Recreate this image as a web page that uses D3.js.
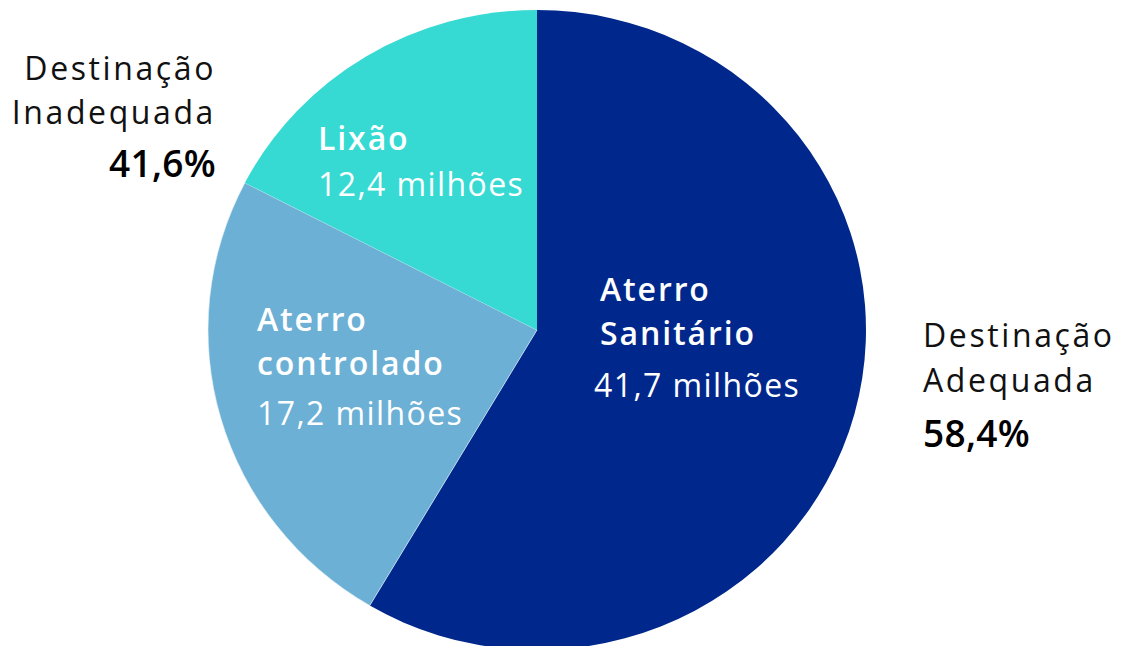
<!DOCTYPE html>
<html>
<head>
<meta charset="utf-8">
<script src="https://d3js.org/d3.v7.min.js"></script>
<style>
  body { margin: 0; background: #fff; }
  svg { display: block; font-family: "Open Sans", "Noto Sans", sans-serif; }
</style>
</head>
<body>
<div id="chart"></div>
<script>
// destinação dos resíduos (milhões de toneladas)
const categories = ["Aterro Sanitário", "Aterro controlado", "Lixão"];
const values = [41.7, 17.2, 12.4];
const valueLabels = ["41,7 milhões", "17,2 milhões", "12,4 milhões"];
const colors = ["#00288c", "#6db0d5", "#37dad3"];
const groupLabels = ["Destinação Adequada", "Destinação Inadequada"];
const groupShares = ["58,4%", "41,6%"];

const w = 1122, h = 646;
const cx = 537, cy = 330, r = 320;

const svg = d3.select('#chart').append('svg')
  .attr('width', w)
  .attr('height', h);

const pie = d3.pie().sort(null).value(d => d);
const arc = d3.arc().innerRadius(0).outerRadius(r);

const g = svg.append('g')
  .attr('transform', 'translate(' + cx + ',' + cy + ') scale(' + (329 / 320) + ',1)');

g.selectAll('path')
  .data(pie(values))
  .enter()
  .append('path')
  .attr('d', arc)
  .attr('fill', (d, i) => colors[i])
  .attr('stroke', (d, i) => i == 1 ? '#e8f4f8' : 'none')
  .attr('stroke-width', 0.6);

// texto dentro das fatias
const inner = [
  { x: 600, lines: ["Aterro", "Sanitário"], y0: 301, vx: 594, vy: 397 },
  { x: 257, lines: ["Aterro", "controlado"], y0: 331, vx: 257, vy: 425 },
  { x: 318, lines: ["Lixão"], y0: 150, vx: 318, vy: 196 }
];

inner.forEach((t, i) => {
  t.lines.forEach((l, j) => {
    svg.append('text')
      .attr('x', t.x)
      .attr('y', t.y0 + j * 44)
      .attr('fill', '#fff')
      .attr('font-size', 32)
      .attr('font-weight', 600)
      .attr('letter-spacing', 1.9)
      .text(l);
  });
  svg.append('text')
    .attr('x', t.vx)
    .attr('y', t.vy)
    .attr('fill', '#fff')
    .attr('font-size', 32)
    .attr('letter-spacing', 1.4)
    .text(valueLabels[i]);
});

// rótulos laterais
const side = [
  { x: 923, anchor: 'start', y: [347, 392, 447] },
  { x: 216, anchor: 'end', y: [80, 124, 177] }
];

side.forEach((s, i) => {
  const words = groupLabels[i].split(' ');
  words.forEach((wd, j) => {
    svg.append('text')
      .attr('x', s.x)
      .attr('y', s.y[j])
      .attr('text-anchor', s.anchor)
      .attr('fill', '#111')
      .attr('font-size', 32)
      .attr('letter-spacing', 2.6)
      .text(wd);
  });
  svg.append('text')
    .attr('x', s.x)
    .attr('y', s.y[2])
    .attr('text-anchor', s.anchor)
    .attr('fill', '#000')
    .attr('font-size', 37)
    .attr('font-weight', 600)
    .attr('letter-spacing', 0.3)
    .text(groupShares[i]);
});
</script>
</body>
</html>
